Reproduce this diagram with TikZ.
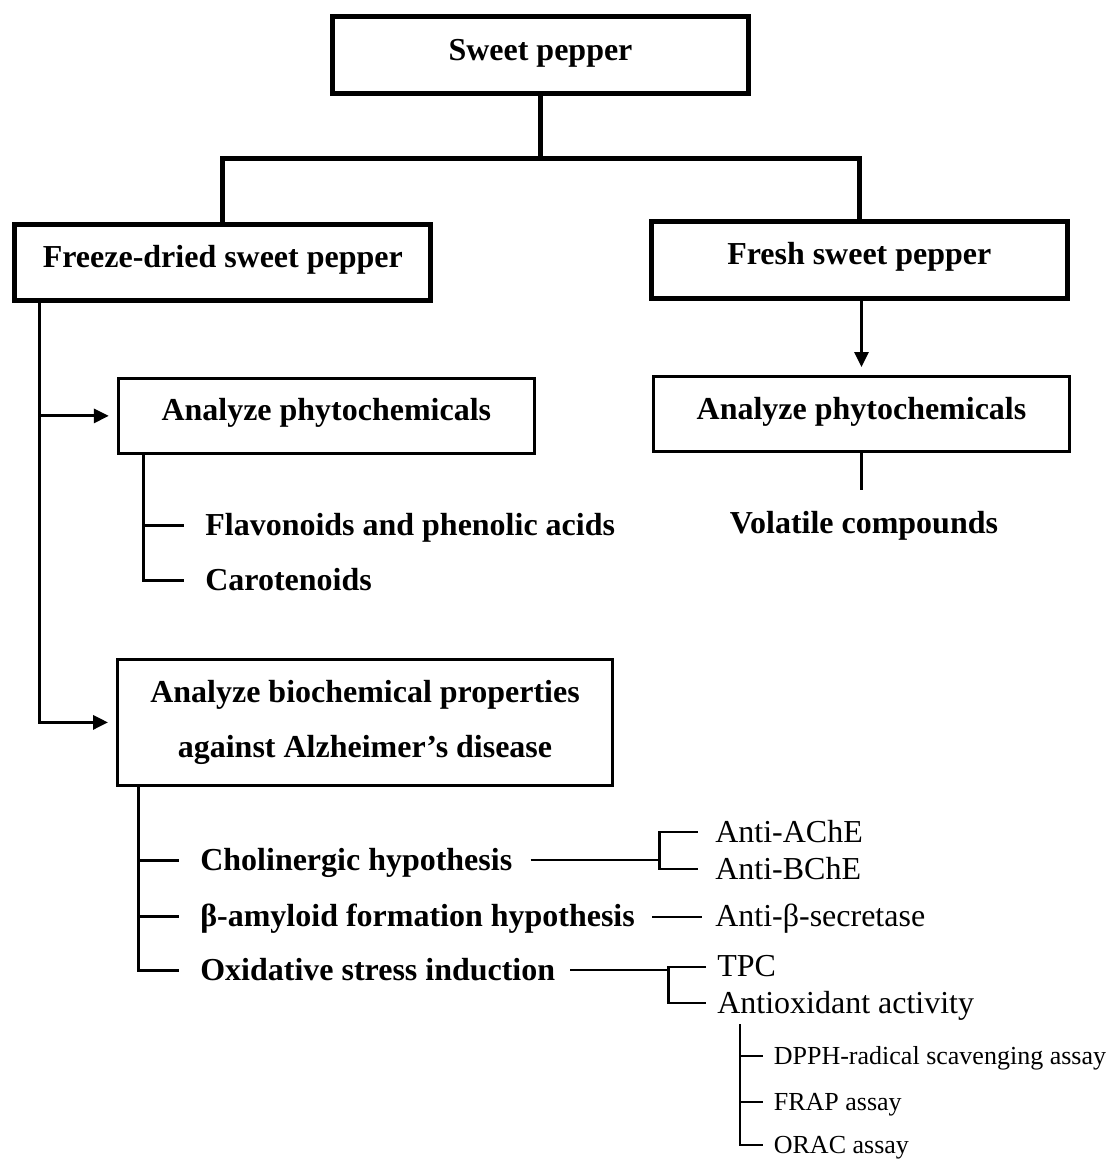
\documentclass[tikz,border=0pt]{standalone}
\usepackage{fontspec}
\setmainfont{Liberation Serif}
\usetikzlibrary{arrows.meta,calc}

\begin{document}
\begin{tikzpicture}[
  font=\fontsize{18.2}{22}\selectfont,
  mainbox/.style={draw, line width=2.85pt, align=center, inner sep=0pt,
    minimum width=8.32cm, minimum height=1.53cm,
    font=\fontsize{18.2}{22}\selectfont\bfseries, text height=11.3pt, text depth=5.6pt},
  anbox/.style={mainbox, line width=1.7pt, minimum height=1.5cm},
  hyp/.style={inner sep=0pt, anchor=base west, font=\fontsize{18.2}{22}\selectfont\bfseries,
    text height=12.7pt, text depth=1.5pt},
  meas/.style={hyp, font=\fontsize{18.2}{22}\selectfont},
  assay/.style={hyp, font=\fontsize{14.8}{18}\selectfont, text height=10.4pt, text depth=1.2pt},
  thk/.style={line width=2.85pt},
  med/.style={line width=1.8pt},
  thn/.style={line width=1.2pt},
  arr/.style={med, -{Triangle[length=3mm, width=2.8mm]}, shorten >=1.6mm},
]
\useasboundingbox (0,0) rectangle (22.34,-23.2);

\node[mainbox] (pepper) at (10.81,-1.10) {Sweet pepper};
\node[mainbox] (freeze) at (4.456,-5.246) {Freeze-dried sweet pepper};
\node[mainbox] (fresh)  at (17.186,-5.198) {Fresh sweet pepper};

\node[anbox] (phytoL) at (6.526,-8.318) {Analyze phytochemicals};
\node[anbox] (phytoR) at (17.23,-8.28)  {Analyze phytochemicals};
\node[anbox, minimum width=9.9cm, minimum height=2.51cm, text height=, text depth=,
      font=\fontsize{18.2}{31.3}\selectfont\bfseries] (biochem) at (7.30,-14.448)
  {Analyze biochemical properties\\ against Alzheimer’s disease};

\node[hyp] (flav) at (4.10,-10.70) {Flavonoids and phenolic acids};
\node[hyp] (caro) at (4.10,-11.80) {Carotenoids};
\node[hyp, anchor=base] (volat) at (17.28,-10.66) {Volatile compounds};

\node[hyp] (chol) at (4.00,-17.40) {Cholinergic hypothesis};
\node[hyp] (amyl) at (4.00,-18.53) {β-amyloid formation hypothesis};
\node[hyp] (oxid) at (4.00,-19.60) {Oxidative stress induction};

\node[meas] (ache)   at (14.30,-16.84) {Anti-AChE};
\node[meas] (bche)   at (14.30,-17.58) {Anti-BChE};
\node[meas] (secr)   at (14.30,-18.53) {Anti-β-secretase};
\node[meas] (tpc)    at (14.34,-19.53) {TPC};
\node[meas] (antiox) at (14.34,-20.26) {Antioxidant activity};

\node[assay] (dpph) at (15.47,-21.28) {DPPH-radical scavenging assay};
\node[assay] (frap) at (15.47,-22.20) {FRAP assay};
\node[assay] (orac) at (15.47,-23.06) {ORAC assay};

\coordinate (split) at ($(pepper.south)+(0,-1.25)$);
\draw[thk] (pepper.south) -- (split);
\draw[thk] (freeze.north) |- (split) -| (fresh.north);

\coordinate (trunk) at ($(freeze.south west)+(0.55,0)$);
\draw[arr] (trunk) |- (biochem.west);
\draw[arr] (trunk |- phytoL.west) -- (phytoL.west);

\coordinate (phytoTrunk) at ($(phytoL.south west)+(0.54,0)$);
\draw[med, shorten >=4.2mm] (phytoTrunk) |- (caro.west);
\draw[med, shorten >=4.2mm] (phytoTrunk |- flav.west) -- (flav.west);

\draw[arr] (phytoR.north |- fresh.south) -- (phytoR.north);
\draw[med, shorten >=4mm] (phytoR.south) -- (phytoR.south |- volat.north);

\coordinate (bioTrunk) at ($(biochem.south west)+(0.45,0)$);
\draw[med, shorten >=4.2mm] (bioTrunk) |- (oxid.west);
\draw[med, shorten >=4.2mm] (bioTrunk |- chol.west) -- (chol.west);
\draw[med, shorten >=4.2mm] (bioTrunk |- amyl.west) -- (amyl.west);

\path (ache.west) ++(-1.11,0) coordinate (cholFork);
\draw[thn, shorten <=3.6mm] (chol.east) -- (cholFork |- chol.east);
\draw[thn, shorten <=3.5mm, shorten >=3.5mm] (ache.west) -| (cholFork) |- (bche.west);
\draw[thn, shorten <=3.4mm, shorten >=2.6mm] (amyl.east) -- (secr.west);

\path (tpc.west) ++(-0.97,0) coordinate (oxFork);
\draw[thn, shorten <=2.9mm] (oxid.east) -- (oxFork |- oxid.east);
\draw[thn, shorten <=2.2mm, shorten >=2.2mm] (tpc.west) -| (oxFork) |- (antiox.west);

\coordinate (assayTrunk) at ($(antiox.base west)+(0.466,-0.22)$);
\draw[thn, shorten >=2.1mm] (assayTrunk) |- (orac.west);
\draw[thn, shorten >=2.1mm] (assayTrunk |- dpph.west) -- (dpph.west);
\draw[thn, shorten >=2.1mm] (assayTrunk |- frap.west) -- (frap.west);
\end{tikzpicture}
\end{document}
